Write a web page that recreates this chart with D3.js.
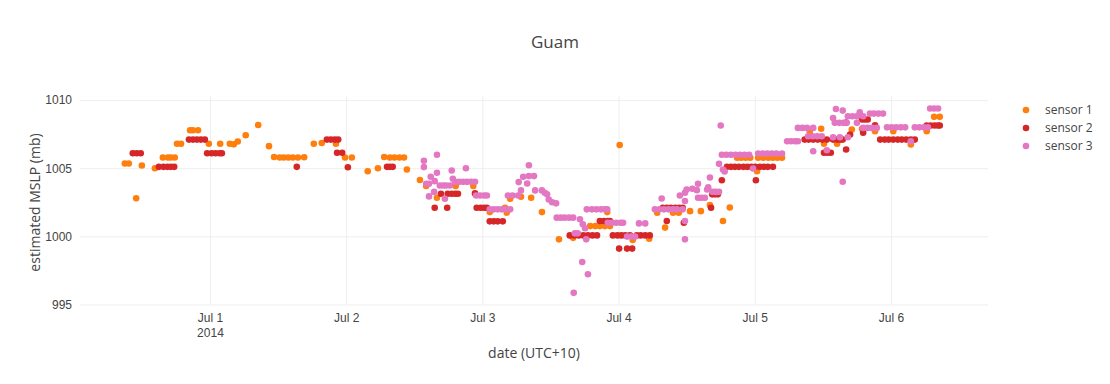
<!DOCTYPE html>
<html>
<head>
<meta charset="utf-8">
<script src="https://cdn.jsdelivr.net/npm/d3@7"></script>
<style>
  body { margin: 0; background: #fff; }
  svg { font-family: "Open Sans", verdana, arial, sans-serif; }
  .grid line { stroke: #eee; stroke-width: 1px; }
  .grid path { display: none; }
  .tick text { fill: #444; font-size: 12px; }
</style>
</head>
<body>
<div id="chart"></div>
<script>
// hours after Jul 1 2014 00:00 (UTC+10), pressure in mb
var sensor1 = [
  [-15,1005.35],[-14.3,1005.35],[-13,1002.8],[-12,1005.2],[-9.7,1005.0],[-8.3,1005.79],[-7.4,1005.79],
  [-6.9,1005.79],[-6.2,1005.79],[-5.8,1006.79],[-5.1,1006.79],[-3.5,1007.79],[-3.0,1007.79],[-2.1,1007.79],
  [-0.2,1006.79],[1.8,1006.79],[3.5,1006.79],[4.2,1006.75],[4.9,1006.96],[6.3,1007.42],[8.5,1008.17],
  [10.4,1006.62],[11.3,1005.82],[12.3,1005.79],[13.0,1005.79],[13.8,1005.79],[14.6,1005.79],[15.5,1005.79],
  [16.6,1005.8],[18.3,1006.79],[19.7,1006.85],[22.2,1006.79],[23.8,1005.79],[25.0,1005.79],[27.8,1004.78],
  [29.6,1005.0],[30.7,1005.82],[31.7,1005.79],[32.5,1005.79],[33.4,1005.79],[34.2,1005.79],[34.7,1004.9],
  [37.0,1004.14],[38.1,1003.7],[40.0,1002.83],[43.3,1003.7],[46.4,1003.7],[49.3,1001.78],[52.0,1002.1],
  [52.3,1001.74],[52.9,1002.76],[54.8,1002.9],[56.6,1002.83],[58.5,1001.78],[61.5,999.78],[64.0,999.89],
  [67.0,1000.75],[67.9,1000.75],[68.7,1000.75],[69.6,1000.75],[70.5,1000.75],[70.0,1001.78],[72.2,1006.7],
  [74.5,999.73],[77.4,999.83],[78.8,1001.74],[80.2,1000.64],[81.6,1001.74],[82.6,1001.74],[84.6,1001.85],
  [86.5,1001.85],[88.1,1002.29],[90.4,1001.12],[91.6,1002.12],[92.9,1005.77],[93.6,1005.77],[94.4,1005.77],
  [95.2,1005.77],[96.4,1004.78],[96.6,1005.77],[97.5,1005.77],[98.4,1005.77],[99.2,1005.77],[100.0,1005.77],
  [100.8,1005.77],[105.7,1007.69],[107.7,1007.9],[108.2,1006.8],[110.5,1006.79],[113.1,1007.84],
  [114.9,1007.89],[117.2,1007.71],[120.4,1007.71],[123.5,1006.74],[126.3,1007.71],[127.6,1008.77],[128.6,1008.77]
];
var sensor2 = [
  [-13.6,1006.1],[-12.9,1006.1],[-12.2,1006.1],[-9.0,1005.1],[-8.2,1005.1],[-7.5,1005.1],[-6.9,1005.1],
  [-6.3,1005.1],[-3.7,1007.1],[-3.0,1007.1],[-2.3,1007.1],[-1.6,1007.1],[-0.9,1007.1],[-0.5,1006.1],
  [0.3,1006.1],[1.0,1006.1],[1.7,1006.1],[2.1,1006.1],[15.3,1005.1],[20.6,1007.1],[21.3,1007.1],
  [22.0,1007.1],[22.6,1007.1],[22.4,1006.13],[23.3,1006.13],[24.3,1005.07],[31.2,1005.1],[31.7,1005.1],
  [32.2,1005.1],[39.6,1002.1],[41.8,1002.1],[40.7,1003.12],[41.9,1003.12],[42.6,1003.12],[43.2,1003.12],
  [43.7,1003.12],[46.7,1003.15],[47.0,1002.1],[47.7,1002.1],[48.3,1002.1],[48.8,1002.1],[49.3,1001.1],
  [50.0,1001.1],[50.7,1001.1],[51.6,1001.1],[63.4,1000.07],[64.2,1000.07],[65.0,1000.07],[65.8,1000.07],
  [66.6,1000.07],[67.4,1000.07],[68.2,1000.07],[68.7,1001.12],[69.4,1001.12],[70.1,1001.12],[70.5,1001.12],
  [71.0,1000.07],[71.8,1000.07],[72.5,1000.07],[73.2,1000.07],[74.0,1000.07],[72.1,999.1],[73.5,999.1],
  [74.4,999.1],[75.2,1000.07],[75.9,1000.07],[76.7,1000.07],[77.5,1000.07],[79.8,1002.1],[80.5,1002.1],
  [81.2,1002.1],[82.0,1002.1],[82.7,1002.1],[83.3,1002.1],[80.5,1001.12],[83.5,1001.0],[88.3,1002.1],
  [88.5,1003.08],[89.0,1003.08],[89.5,1003.08],[90.2,1004.12],[91.1,1005.1],[91.8,1005.1],[92.5,1005.1],
  [93.2,1005.1],[94.0,1005.1],[94.7,1005.1],[95.4,1005.1],[96.1,1005.1],[96.9,1005.1],[97.6,1005.1],
  [98.3,1005.1],[99.2,1005.1],[96.2,1004.12],[104.8,1007.1],[105.5,1007.1],[106.3,1007.1],[107.1,1007.1],
  [107.9,1007.1],[108.7,1007.1],[108.2,1006.13],[108.8,1006.13],[109.4,1006.13],[109.8,1007.1],[110.5,1007.1],
  [111.1,1007.1],[111.5,1007.1],[112.1,1006.37],[112.8,1007.47],[112.1,1008.35],[114.9,1008.57],[115.4,1008.57],
  [115.9,1008.57],[115.1,1007.6],[117.2,1008.15],[118.1,1007.1],[118.9,1007.1],[119.6,1007.1],[120.4,1007.1],
  [121.2,1007.1],[121.9,1007.1],[122.7,1007.1],[123.5,1007.1],[124.2,1007.1],[126.3,1008.13],[127.0,1008.13],
  [127.7,1008.13],[128.3,1008.13],[128.6,1008.13]
];
var sensor3 = [
  [37.7,1005.55],[37.7,1005.08],[40.0,1005.99],[38.9,1004.37],[40.0,1004.67],[42.6,1004.83],[45.1,1005.0],
  [38.1,1003.86],[38.6,1003.86],[39.6,1004.05],[40.5,1003.73],[41.1,1003.73],[41.6,1003.73],[42.3,1003.73],
  [42.8,1004.22],[43.2,1004.0],[43.9,1004.0],[44.6,1004.0],[45.3,1004.0],[46.0,1004.0],[46.7,1004.0],
  [39.5,1003.26],[38.6,1002.93],[41.4,1002.76],[46.9,1003.0],[47.6,1003.0],[48.3,1003.0],[48.8,1003.0],
  [49.3,1001.98],[50.0,1001.98],[50.7,1001.98],[51.4,1001.98],[52.1,1001.98],[52.9,1001.98],[52.5,1003.0],
  [53.3,1003.0],[54.3,1003.0],[54.8,1003.37],[54.4,1003.98],[55.9,1003.88],[55.2,1004.37],[56.2,1004.42],
  [57.1,1004.42],[56.2,1005.22],[57.3,1003.37],[58.5,1003.37],[59.0,1003.2],[59.4,1003.08],[59.7,1002.7],
  [60.3,1002.5],[61.0,1002.42],[61.1,1001.37],[61.8,1001.37],[62.5,1001.37],[63.3,1001.37],[64.0,1001.37],
  [65.2,1001.25],[65.7,1000.88],[66.1,1000.59],[64.3,1000.22],[64.8,1000.22],[66.3,999.78],[66.4,1001.98],
  [67.3,1001.98],[68.1,1001.98],[68.9,1001.98],[69.6,1001.98],[70.0,1001.98],[65.6,998.12],[66.6,997.22],
  [64.1,995.85],[70.1,1001.0],[70.8,1001.0],[71.6,1001.0],[72.4,1001.0],[72.8,1001.0],[73.5,999.98],
  [74.2,999.98],[74.9,999.98],[75.6,1000.95],[76.7,1000.95],[78.4,1001.98],[79.2,1001.98],[80.0,1001.98],
  [80.8,1001.98],[81.6,1001.98],[82.3,1001.98],[83.3,1001.98],[79.6,1002.78],[83.7,1001.12],[83.7,999.78],
  [82.8,1003.0],[83.7,1003.2],[84.0,1003.44],[85.0,1003.49],[85.8,1003.39],[86.0,1003.86],[83.7,1002.59],
  [86.0,1002.83],[86.6,1002.83],[87.2,1002.83],[87.8,1003.59],[88.1,1004.32],[89.2,1003.25],[88.5,1003.27],
  [89.0,1003.27],[89.7,1003.27],[87.6,1003.44],[89.7,1005.32],[90.4,1004.91],[90.7,1004.76],[90.0,1008.13],
  [90.2,1005.99],[91.0,1005.99],[91.8,1005.99],[92.6,1005.99],[93.4,1005.99],[94.2,1005.99],[95.0,1005.99],
  [95.7,1004.98],[96.6,1006.08],[97.4,1006.08],[98.2,1006.08],[99.0,1006.08],[99.8,1006.08],[100.8,1006.08],
  [101.7,1006.98],[102.4,1006.98],[103.1,1006.98],[103.6,1006.98],[103.6,1007.96],[104.4,1007.96],
  [105.2,1007.96],[106.3,1007.96],[105.4,1007.35],[106.2,1007.35],[107.0,1007.35],[107.8,1007.35],
  [106.3,1006.25],[108.7,1006.32],[109.8,1007.27],[111.0,1007.27],[112.4,1007.27],[111.5,1004.01],
  [110.3,1009.35],[111.5,1009.23],[109.8,1008.69],[110.1,1008.33],[110.9,1008.33],[111.6,1008.33],
  [112.2,1008.33],[112.4,1008.81],[113.2,1008.81],[114.0,1008.81],[115.1,1008.81],[114.5,1009.1],
  [114.0,1008.33],[115.1,1007.96],[115.9,1007.96],[116.7,1007.96],[117.5,1007.96],[116.3,1009.01],
  [117.0,1009.01],[117.8,1009.01],[118.6,1009.01],[119.3,1008.0],[120.1,1008.0],[120.9,1008.0],
  [121.7,1008.0],[122.5,1008.0],[123.5,1006.98],[124.2,1008.0],[125.0,1008.0],[125.8,1008.0],
  [126.5,1008.0],[126.9,1009.38],[127.6,1009.38],[128.3,1009.38]
];

var seriesNames = ["sensor 1", "sensor 2", "sensor 3"];
var seriesColors = ["#ff7f0e", "#d62728", "#e377c2"];
var yTicks = [995, 1000, 1005, 1010];
var xTickDays = ["2014-07-01", "2014-07-02", "2014-07-03", "2014-07-04", "2014-07-05", "2014-07-06"];

var width = 1110, height = 384;
var plot = {left: 80, right: 988, top: 96, bottom: 305};
var base = Date.UTC(2014, 6, 1);

function toDate(h){ return new Date(base + h * 3600000); }

var x = d3.scaleUtc()
  .domain([toDate(-22.9), toDate(137.1)])
  .range([plot.left, plot.right]);
var y = d3.scaleLinear()
  .domain([994.96, 1010.3])
  .range([plot.bottom, plot.top]);

var svg = d3.select("#chart").append("svg")
  .attr("width", width)
  .attr("height", height);

// grid + y labels
svg.append("g")
  .attr("class", "grid")
  .attr("transform", "translate(" + plot.left + ",0)")
  .call(d3.axisLeft(y).tickValues(yTicks).tickSize(-(plot.right - plot.left)).tickPadding(8).tickFormat(d3.format("d")))
  .call(g => g.selectAll(".tick line").attr("x1", 0));

var xTicks = xTickDays.map(d => new Date(d + "T00:00:00Z"));
var xg = svg.append("g")
  .attr("class", "grid")
  .attr("transform", "translate(0," + plot.bottom + ")")
  .call(d3.axisBottom(x).tickValues(xTicks).tickSize(-(plot.bottom - plot.top)).tickPadding(8).tickFormat(d3.utcFormat("%b %-d")));

xg.selectAll(".tick").filter((d, i) => i == 0)
  .select("text")
  .append("tspan")
  .attr("x", 0)
  .attr("dy", "1.25em")
  .text("2014");

// points
var allSeries = [sensor1, sensor2, sensor3];
allSeries.forEach(function(data, i){
  svg.append("g")
    .selectAll("circle")
    .data(data)
    .enter()
    .append("circle")
    .attr("cx", d => x(toDate(d[0])))
    .attr("cy", d => y(d[1]))
    .attr("r", 3.3)
    .attr("fill", seriesColors[i]);
});

// titles
svg.append("text")
  .attr("x", 555).attr("y", 48)
  .attr("text-anchor", "middle")
  .style("font-size", "17px").style("fill", "#444")
  .text("Guam");

svg.append("text")
  .attr("x", (plot.left + plot.right) / 2).attr("y", 358)
  .attr("text-anchor", "middle")
  .style("font-size", "14px").style("fill", "#444")
  .text("date (UTC+10)");

svg.append("text")
  .attr("transform", "translate(40," + ((plot.top + plot.bottom) / 2 + 2) + ") rotate(-90)")
  .attr("text-anchor", "middle")
  .style("font-size", "14px").style("fill", "#444")
  .text("estimated MSLP (mb)");

// legend
var legend = svg.append("g").attr("transform", "translate(1026,110)");
seriesNames.forEach(function(name, i){
  var row = legend.append("g").attr("transform", "translate(0," + (i * 18) + ")");
  row.append("circle").attr("r", 3.3).attr("fill", seriesColors[i]);
  row.append("text")
    .attr("x", 19).attr("dy", "0.35em")
    .style("font-size", "12px").style("fill", "#444")
    .text(name);
});
</script>
</body>
</html>
